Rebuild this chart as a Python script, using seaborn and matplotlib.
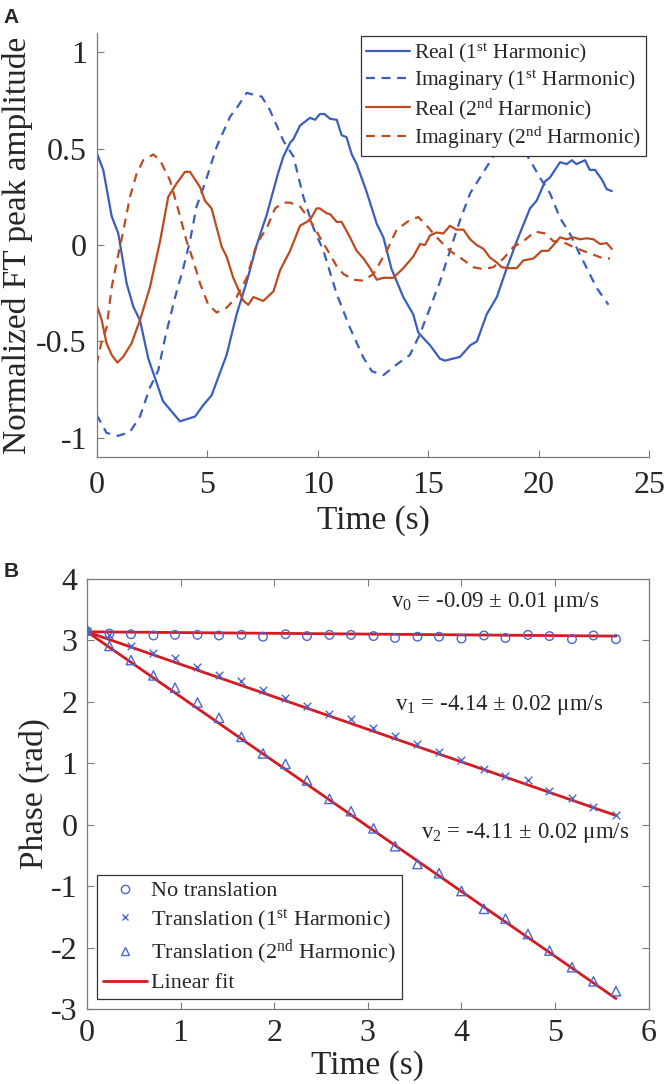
import numpy as np
import pandas as pd
import matplotlib
matplotlib.use("Agg")
import matplotlib.pyplot as plt
from matplotlib.lines import Line2D
import seaborn as sns

# ---------------- Panel A data ----------------
t_re1 = [0, 0.3, 0.68, 0.98, 1.36, 1.66, 1.96, 2.34, 3.0, 3.77, 4.45, 4.83, 5.2, 5.88, 6.33, 6.79, 7.24, 7.7, 8.2,
         8.45, 8.75, 8.9, 9.2, 9.65, 9.88, 10.1, 10.3, 10.56, 10.86, 11.08, 11.3, 11.54, 11.76, 12.2, 12.67, 12.97,
         13.34, 13.87, 14.32, 14.55, 15.08, 15.53, 15.76, 16.44, 16.9, 17.2, 17.64, 18.1, 18.55, 19.0, 19.6, 19.9,
         20.28, 20.5, 20.96, 21.26, 21.49, 21.7, 22.09, 22.3, 22.54, 22.85, 23.07, 23.3]
re1 = [0.48, 0.39, 0.15, 0.06, -0.2, -0.32, -0.39, -0.59, -0.81, -0.915, -0.89, -0.83, -0.78, -0.57, -0.36, -0.19,
       0.0, 0.16, 0.37, 0.46, 0.53, 0.55, 0.62, 0.66, 0.65, 0.68, 0.68, 0.655, 0.65, 0.57, 0.56, 0.47, 0.42, 0.28,
       0.11, 0.04, -0.125, -0.27, -0.36, -0.455, -0.52, -0.59, -0.6, -0.58, -0.52, -0.5, -0.36, -0.27, -0.12, 0.02,
       0.19, 0.23, 0.33, 0.35, 0.43, 0.42, 0.44, 0.42, 0.44, 0.39, 0.39, 0.34, 0.29, 0.28]

t_im1 = [0, 0.45, 0.98, 1.51, 1.96, 2.41, 2.79, 3.1, 3.55, 3.92, 4.22, 4.52, 4.9, 5.43, 6.03, 6.33, 6.79, 7.09, 7.47,
         7.84, 8.45, 8.9, 9.35, 9.8, 10.26, 10.86, 11.46, 12.07, 12.45, 12.97, 13.57, 14.17, 14.63, 15.08, 15.53,
         15.98, 16.44, 16.9, 17.34, 17.94, 18.5, 19.0, 19.6, 20.05, 20.5, 20.96, 21.4, 21.86, 22.3, 22.6, 23.15]
im1 = [-0.88, -0.975, -0.99, -0.97, -0.89, -0.74, -0.65, -0.48, -0.27, -0.12, 0.02, 0.2, 0.32, 0.51, 0.665, 0.71,
       0.79, 0.78, 0.77, 0.7, 0.54, 0.46, 0.25, 0.09, -0.03, -0.255, -0.43, -0.585, -0.655, -0.675, -0.62, -0.57,
       -0.46, -0.325, -0.19, -0.03, 0.13, 0.27, 0.35, 0.46, 0.54, 0.55, 0.44, 0.35, 0.27, 0.14, 0.06, -0.05, -0.15,
       -0.22, -0.31]

t_re2 = [0, 0.23, 0.45, 0.68, 0.94, 1.2, 1.58, 1.96, 2.41, 2.87, 3.24, 3.62, 4.0, 4.22, 4.68, 4.9, 5.2, 5.66, 5.88,
         6.18, 6.64, 6.86, 7.09, 7.54, 8.0, 8.3, 8.75, 9.2, 9.65, 9.95, 10.1, 10.4, 10.56, 10.86, 11.08, 11.46, 11.76,
         12.07, 12.37, 12.67, 12.97, 13.42, 13.87, 14.32, 14.63, 14.85, 15.08, 15.38, 15.68, 15.98, 16.28, 16.59,
         16.89, 17.19, 17.5, 17.79, 18.09, 18.32, 18.62, 19.0, 19.3, 19.75, 20.13, 20.43, 20.66, 20.96, 21.26, 21.56,
         21.86, 22.17, 22.47, 22.77, 23.07, 23.3]
re2 = [-0.31, -0.39, -0.51, -0.57, -0.61, -0.58, -0.51, -0.39, -0.22, 0.02, 0.25, 0.32, 0.38, 0.38, 0.3, 0.23, 0.19,
       -0.01, -0.06, -0.17, -0.29, -0.31, -0.27, -0.29, -0.24, -0.13, -0.03, 0.1, 0.13, 0.19, 0.19, 0.165, 0.16, 0.12,
       0.12, 0.04, -0.03, -0.07, -0.12, -0.18, -0.17, -0.17, -0.12, -0.06, 0.005, 0.0, 0.05, 0.065, 0.06, 0.1, 0.08,
       0.08, 0.03, 0.0, -0.02, -0.065, -0.09, -0.115, -0.12, -0.12, -0.08, -0.07, -0.03, -0.03, 0.0, 0.04, 0.03,
       0.04, 0.03, 0.035, 0.03, 0.005, 0.01, -0.02]

t_im2 = [0, 0.23, 0.45, 0.68, 0.98, 1.2, 1.51, 1.81, 2.11, 2.56, 2.87, 3.32, 3.7, 4.07, 4.37, 4.68, 5.05, 5.43, 5.88,
         6.33, 6.79, 7.24, 7.7, 8.07, 8.45, 8.75, 9.2, 9.65, 10.1, 10.56, 10.86, 11.16, 11.61, 12.07, 12.52, 13.12,
         13.57, 14.17, 14.55, 14.93, 15.38, 15.98, 16.44, 17.04, 17.49, 17.94, 18.4, 18.85, 19.3, 19.83, 20.28,
         20.66, 21.1, 21.56, 22.0, 22.47, 22.92, 23.22]
im2 = [-0.62, -0.5, -0.43, -0.22, -0.05, 0.07, 0.25, 0.37, 0.44, 0.47, 0.44, 0.335, 0.18, 0.02, -0.08, -0.2, -0.31,
       -0.35, -0.325, -0.27, -0.17, 0.005, 0.09, 0.19, 0.22, 0.22, 0.2, 0.13, 0.04, -0.05, -0.11, -0.15, -0.18,
       -0.185, -0.15, -0.03, 0.08, 0.13, 0.145, 0.1, 0.04, -0.03, -0.065, -0.115, -0.125, -0.115, -0.07, -0.01,
       0.02, 0.07, 0.06, 0.02, 0.015, -0.01, -0.03, -0.05, -0.07, -0.07]

labels_A = ["Real (1$^{\\mathrm{st}}$ Harmonic)", "Imaginary (1$^{\\mathrm{st}}$ Harmonic)",
            "Real (2$^{\\mathrm{nd}}$ Harmonic)", "Imaginary (2$^{\\mathrm{nd}}$ Harmonic)"]
xticks_A = [0, 5, 10, 15, 20, 25]
yticks_A = [-1, -0.5, 0, 0.5, 1]
yticklabels_A = ["-1", "-0.5", "0", "0.5", "1"]

# ---------------- Panel B data ----------------
t_B = [0, 0.24, 0.47, 0.71, 0.94, 1.18, 1.41, 1.65, 1.88, 2.12, 2.35, 2.59, 2.82, 3.06, 3.29, 3.53, 3.76, 4.0,
       4.24, 4.47, 4.71, 4.94, 5.18, 5.41, 5.65]
phase_none = [3.15, 3.11, 3.10, 3.08, 3.09, 3.09, 3.08, 3.09, 3.06, 3.10, 3.07, 3.09, 3.09, 3.07, 3.04, 3.06, 3.06,
              3.03, 3.08, 3.04, 3.09, 3.07, 3.02, 3.08, 3.02]
phase_h1 = [3.15, 3.08, 2.91, 2.79, 2.72, 2.56, 2.44, 2.34, 2.19, 2.06, 1.93, 1.81, 1.72, 1.57, 1.44, 1.31, 1.18,
            1.06, 0.90, 0.80, 0.72, 0.55, 0.43, 0.29, 0.16]
phase_h2 = [3.16, 2.91, 2.68, 2.43, 2.23, 1.99, 1.74, 1.43, 1.16, 0.99, 0.72, 0.42, 0.22, -0.06, -0.35, -0.64, -0.79,
            -1.08, -1.37, -1.53, -1.78, -2.05, -2.32, -2.55, -2.71]
fit_t = [0, 5.65]
fit_none = [3.14, 3.07]
fit_h1 = [3.14, 0.15]
fit_h2 = [3.14, -2.83]
labels_B = ["No translation", "Translation (1$^{\\mathrm{st}}$ Harmonic)",
            "Translation (2$^{\\mathrm{nd}}$ Harmonic)", "Linear fit"]
annot_text = ["v$_{0}$ = -0.09 ± 0.01 μm/s", "v$_{1}$ = -4.14 ± 0.02 μm/s", "v$_{2}$ = -4.11 ± 0.02 μm/s"]
annot_x = [3.25, 3.29, 3.57]
annot_y = [3.55, 1.87, -0.22]
yticks_B = [-3, -2, -1, 0, 1, 2, 3, 4]
xticks_B = [0, 1, 2, 3, 4, 5, 6]

# ---------------- style ----------------
sns.set_theme(style="white")
plt.rcParams["font.family"] = ["Liberation Serif", "DejaVu Serif"]
plt.rcParams["mathtext.fontset"] = "custom"
plt.rcParams["mathtext.rm"] = "Liberation Serif"
plt.rcParams["mathtext.it"] = "Liberation Serif:italic"
plt.rcParams["mathtext.bf"] = "Liberation Serif:bold"
plt.rcParams["axes.unicode_minus"] = False

BLUE = "#3A5EBE"
ORANGE = "#BE4A1F"
RED = "#D71920"
MBLUE = "#4A68CC"
SPINE = "#7A7A7A"
TICK_FS = 23
LABEL_FS = 24
LEG_FS = 15.5

fig = plt.figure(figsize=(6.64, 10.84), dpi=100)

# ---------------- Panel A ----------------
axA = fig.add_axes([0.1455, 0.5784, 0.8325, 0.3911])
series = [(t_re1, re1, BLUE, "-"), (t_im1, im1, BLUE, (0, (4, 3))),
          (t_re2, re2, ORANGE, "-"), (t_im2, im2, ORANGE, (0, (4, 3)))]
for (tt, vv, col, ls), lab in zip(series, labels_A):
    df = pd.DataFrame({"t": tt, "v": vv})
    sns.lineplot(data=df, x="t", y="v", ax=axA, color=col, linestyle=ls, linewidth=1.6,
                 estimator=None, sort=False, label=lab)
axA.set_xlim(0, 25)
axA.set_ylim(-1.1, 1.1)
axA.set_xticks(xticks_A)
axA.set_xticklabels([str(v) for v in xticks_A])
axA.set_yticks(yticks_A)
axA.set_yticklabels(yticklabels_A)
axA.set_xlabel("Time (s)", fontsize=LABEL_FS, labelpad=4)
axA.set_ylabel("Normalized FT peak amplitude", fontsize=LABEL_FS, labelpad=2)
for s in ["top", "right"]:
    axA.spines[s].set_visible(False)
for s in ["left", "bottom"]:
    axA.spines[s].set_color(SPINE)
    axA.spines[s].set_linewidth(0.9)
axA.tick_params(direction="in", length=5, width=0.8, color=SPINE, labelsize=TICK_FS,
                left=True, bottom=True)
axA.tick_params(axis="x", pad=10)
axA.tick_params(axis="y", pad=7)
legA = axA.legend(loc="upper right", fontsize=LEG_FS, frameon=True, fancybox=False, framealpha=1,
                  edgecolor="#333333", borderaxespad=0.15, handlelength=2.0, handletextpad=0.2,
                  labelspacing=0.15, borderpad=0.25)
legA.get_frame().set_linewidth(0.9)
fig.text(0.005, 0.993, "A", fontsize=15, fontweight="bold", family="Liberation Sans", va="top", ha="left")

# ---------------- Panel B ----------------
axB = fig.add_axes([0.131, 0.0692, 0.846, 0.3967])
for ft, fv in [(fit_t, fit_none), (fit_t, fit_h1), (fit_t, fit_h2)]:
    sns.lineplot(x=ft, y=fv, ax=axB, color=RED, linewidth=2.0, estimator=None, sort=False)
sns.scatterplot(x=t_B, y=phase_none, ax=axB, marker="o", s=38, facecolor="none", edgecolor=MBLUE,
                linewidth=1.0, zorder=3)
sns.scatterplot(x=t_B, y=phase_h1, ax=axB, marker="x", s=30, color=MBLUE, linewidth=1.0, zorder=3)
sns.scatterplot(x=t_B, y=phase_h2, ax=axB, marker="^", s=45, facecolor="none", edgecolor=MBLUE,
                linewidth=1.0, zorder=3)
for txt, xx, yy in zip(annot_text, annot_x, annot_y):
    axB.text(xx, yy, txt, fontsize=16.5, ha="left", va="baseline")
axB.set_xlim(0, 6)
axB.set_ylim(-3, 4)
axB.set_xticks(xticks_B)
axB.set_xticklabels([str(v) for v in xticks_B])
axB.set_yticks(yticks_B)
axB.set_yticklabels([str(v) for v in yticks_B])
axB.set_xlabel("Time (s)", fontsize=LABEL_FS, labelpad=2)
axB.set_ylabel("Phase (rad)", fontsize=LABEL_FS, labelpad=0.5)
for s in axB.spines.values():
    s.set_visible(True)
    s.set_color(SPINE)
    s.set_linewidth(0.9)
axB.tick_params(direction="in", length=5, width=0.8, color=SPINE, labelsize=TICK_FS, pad=7,
                left=True, bottom=True, top=True, right=True)
handles_B = [Line2D([], [], linestyle="none", marker="o", markersize=6, markerfacecolor="none",
                    markeredgecolor=MBLUE, markeredgewidth=1.0),
             Line2D([], [], linestyle="none", marker="x", markersize=5, color=MBLUE, markeredgewidth=1.0),
             Line2D([], [], linestyle="none", marker="^", markersize=6, markerfacecolor="none",
                    markeredgecolor=MBLUE, markeredgewidth=1.0),
             Line2D([], [], color=RED, linewidth=2.0)]
legB = axB.legend(handles_B, labels_B, loc="lower left", fontsize=16, frameon=True, fancybox=False,
                  framealpha=1, edgecolor="#333333", borderaxespad=0.45, handlelength=2.0,
                  handletextpad=0.2, labelspacing=0.25, borderpad=0.25)
legB.get_frame().set_linewidth(0.9)
fig.text(0.005, 0.482, "B", fontsize=15, fontweight="bold", family="Liberation Sans", va="top", ha="left")

fig.savefig("out.png", dpi=100)
